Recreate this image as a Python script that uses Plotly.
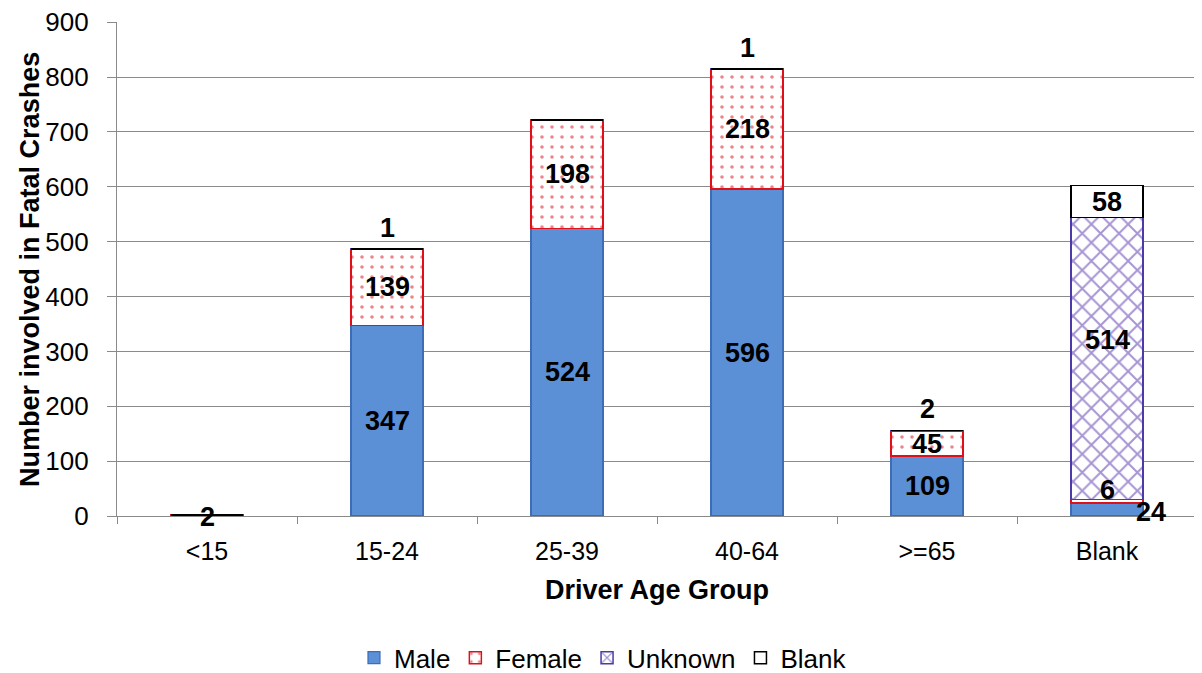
import plotly.graph_objects as go

categories = ["<15", "15-24", "25-39", "40-64", ">=65", "Blank"]
male = [0, 347, 524, 596, 109, 24]
female = [2, 139, 198, 218, 45, 6]
unknown = [0, 1, 0, 1, 2, 514]
blank = [0, 0, 0, 0, 0, 58]
y_ticks = [0, 100, 200, 300, 400, 500, 600, 700, 800, 900]

FONT = "Liberation Sans, Arial, sans-serif"

fig = go.Figure()
fig.add_trace(go.Bar(
    name="Male", x=categories, y=male, width=0.4,
    marker=dict(color="#5B8FD6", line=dict(color="#3E6DB8", width=1.2)),
))
fig.add_trace(go.Bar(
    name="Female", x=categories, y=female, width=0.4,
    marker=dict(color="white", line=dict(color="#E0101A", width=1.5),
                pattern=dict(shape=".", fgcolor="#D80C16", bgcolor="white",
                             size=10, solidity=0.1)),
))
fig.add_trace(go.Bar(
    name="Unknown", x=categories, y=unknown, width=0.4,
    marker=dict(color="white", line=dict(color="#4B3AA8", width=1.5),
                pattern=dict(shape="x", fgcolor="#4E2AA8", bgcolor="white",
                             size=13, solidity=0.28)),
))
fig.add_trace(go.Bar(
    name="Blank", x=categories, y=blank, width=0.4,
    marker=dict(color="white", line=dict(color="black", width=1.5)),
))

# data labels
ann = []
lab_font = dict(family=FONT, size=27, color="black")
series = [male, female, unknown, blank]
for i, cat in enumerate(categories):
    base = 0
    for s_idx, s in enumerate(series):
        v = s[i]
        if v == 0:
            continue
        top = base + v
        mid = base + v / 2
        xs, ys = 0, 0
        y = mid
        if s_idx == 2 and v < 10:
            y = top
            ys = 21
        elif s_idx == 0 and cat == "Blank":
            xs, ys = 44, -3
        elif s_idx == 1 and cat == "Blank":
            ys = 11
        elif s_idx == 2 and cat == "Blank":
            ys = 19
        elif s_idx == 1 and cat == "<15":
            ys = -2
        ann.append(dict(x=cat, y=y, text="<b>%d</b>" % v, showarrow=False,
                        xshift=xs, yshift=ys, font=lab_font,
                        xanchor="center", yanchor="middle"))
        base = top

# y-axis title as a paper annotation
ann.append(dict(xref="paper", yref="paper", x=-0.0806, y=0.5,
                text="<b>Number involved in Fatal Crashes</b>", textangle=-90,
                showarrow=False, xanchor="center", yanchor="middle",
                font=dict(family=FONT, size=27, color="black")))

fig.update_layout(
    barmode="stack",
    width=1202, height=673,
    margin=dict(l=109, r=13, t=14, b=165, autoexpand=False),
    paper_bgcolor="white", plot_bgcolor="white",
    font=dict(family=FONT, size=26, color="black"),
    bargap=0.6,
    annotations=ann,
    legend=dict(orientation="h", xref="container", x=0.495, xanchor="center",
                y=-0.287, yanchor="middle",
                font=dict(family=FONT, size=26), traceorder="normal",
                itemwidth=30),
    xaxis=dict(
        title=dict(text="<b>Driver Age Group</b>", font=dict(size=27), standoff=16),
        automargin=False,
        showline=True, linecolor="#8A8A8A", linewidth=1.2,
        ticks="outside", tickson="boundaries", ticklen=7, tickcolor="#8A8A8A",
        tickfont=dict(size=25), showgrid=False, ticklabelstandoff=13,
    ),
    yaxis=dict(
        automargin=False,
        range=[0, 900.4], tickvals=y_ticks,
        ticklabeloverflow="allow",
        showline=True, linecolor="#8A8A8A", linewidth=1.2,
        ticks="outside", ticklen=9, tickcolor="#8A8A8A",
        showgrid=True, gridcolor="#8A8A8A", gridwidth=1,
        tickfont=dict(size=26), zeroline=False, ticklabelstandoff=13,
    ),
)

fig.write_html("out.html")
